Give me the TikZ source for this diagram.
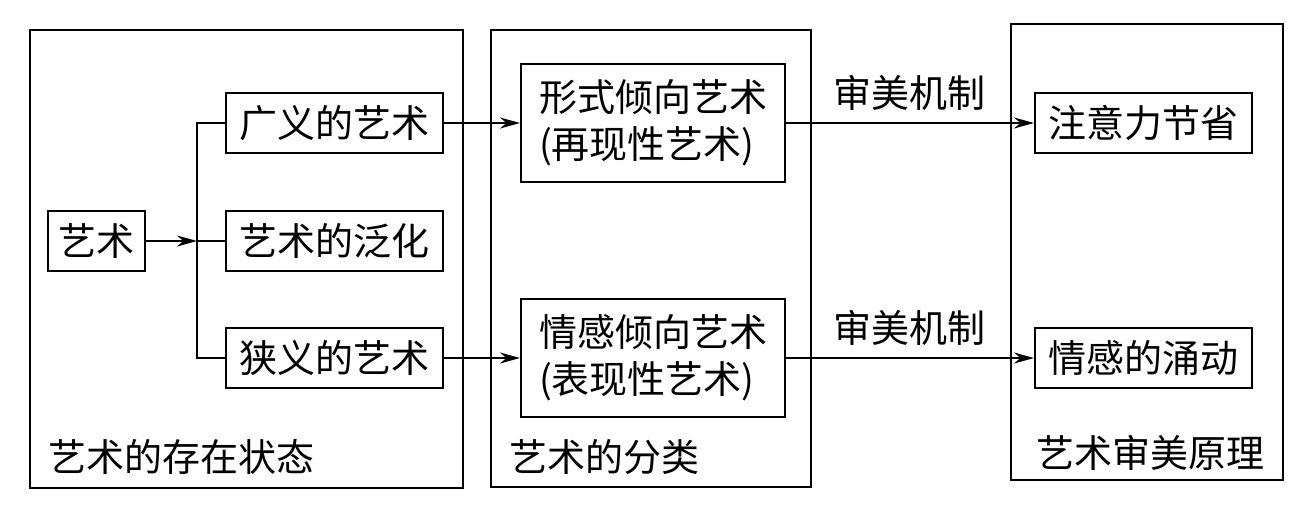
\documentclass[tikz,border=0pt]{standalone}
\usepackage{fontspec}
\setmainfont{Noto Sans CJK SC}
\usetikzlibrary{arrows.meta}

\begin{document}
\begin{tikzpicture}[x=0.5pt,y=-0.5pt,line width=1pt,
  font=\fontsize{19}{23.5}\selectfont,
  main_node/.style={draw,rectangle,inner sep=0pt,minimum width=108.5pt,minimum height=30pt},
  two_line_node/.style={draw,rectangle,inner sep=0pt,minimum width=132pt,minimum height=59pt,align=left},
  group_label/.style={anchor=west,inner sep=0pt},
  arr/.style={-{Stealth[length=10pt,width=5.5pt]}}]

    \useasboundingbox (0,0) rectangle (1311,510);

    % the three groups
    \draw (30,30) rectangle (463,488);
    \draw (491,30) rectangle (811,487);
    \draw (1011,24) rectangle (1283,480);
    \node[group_label] (11) at (47,457) {艺术的存在状态};
    \node[group_label] (12) at (508,457) {艺术的分类};
    \node[group_label] (13) at (1035,453) {艺术审美原理};

    \node[main_node,minimum width=48.5pt] (1) at (96.5,241) {艺术};
    \node[main_node] (2) at (334.5,123) {广义的艺术};
    \node[main_node] (3) at (334.5,241) {艺术的泛化};
    \node[main_node] (4) at (334.5,358) {狭义的艺术};
    \node[two_line_node] (5) at (653,123) {形式倾向艺术\\(再现性艺术)};
    \node[two_line_node] (6) at (653,358) {情感倾向艺术\\(表现性艺术)};
    \node[main_node] (7) at (1143.5,123) {注意力节省};
    \node[main_node] (8) at (1143.5,358) {情感的涌动};
    \node (9) at (909,93) {审美机制};
    \node (10) at (909,328) {审美机制};
    \coordinate (j) at (197,241);

    \draw[arr] (1) -- (j);
    \draw (j) -- (3);
    \draw (2.west) -| (j) |- (4.west);
    \draw[arr] (2) -- (5);
    \draw[arr] (4) -- (6);
    \draw[arr] (5) -- (7);
    \draw[arr] (6) -- (8);
\end{tikzpicture}
\end{document}
